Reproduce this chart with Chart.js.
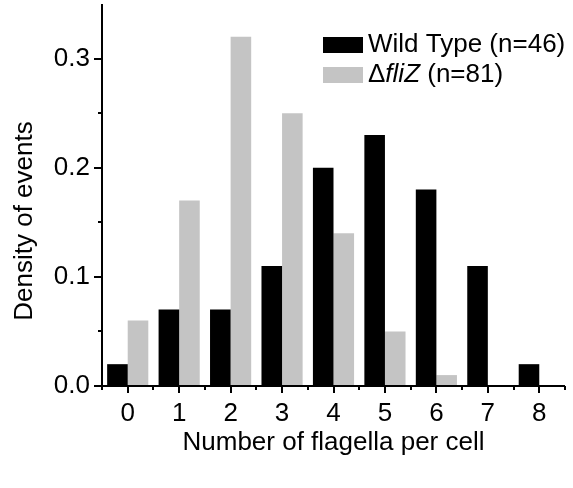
<!DOCTYPE html>
<html>
<head>
<meta charset="utf-8">
<script src="https://cdn.jsdelivr.net/npm/chart.js@4"></script>
<style>
  html, body { margin: 0; padding: 0; background: #fff; }
  #wrap { width: 573px; height: 488px; }
</style>
</head>
<body>
<div id="wrap"><canvas id="flagellaChart" width="573" height="488"></canvas></div>
<script>
let labelsData = ["0", "1", "2", "3", "4", "5", "6", "7", "8"];
let wildTypeData = [0.02, 0.07, 0.07, 0.11, 0.20, 0.23, 0.18, 0.11, 0.02];
let fliZData = [0.06, 0.17, 0.32, 0.25, 0.14, 0.05, 0.01, 0, 0];
let yTicks = [0, 0.1, 0.2, 0.3];
let yMinorTicks = [0.05, 0.15, 0.25];
let xTitle = "Number of flagella per cell";
let yTitle = "Density of events";

let fontFamily = "'Liberation Sans', Arial, sans-serif";
let chart = document.getElementById("flagellaChart");

// legend entries, each as plain/italic text runs
let legendItems = [
  { color: "#000000", parts: [["Wild Type (n=46)", false]] },
  { color: "#c4c4c4", parts: [["\u0394", false], ["fliZ", true], [" (n=81)", false]] },
];

// axis lines, major and minor tick marks, axis titles and legend
const axesPlugin = {
  id: "axesPlugin",
  afterDraw(c) {
    const ctx = c.ctx;
    const x = c.scales.x;
    const y = c.scales.y;
    const area = c.chartArea;
    ctx.save();
    ctx.strokeStyle = "#000";
    ctx.lineWidth = 2;
    ctx.beginPath();
    ctx.moveTo(area.left, area.top);
    ctx.lineTo(area.left, area.bottom);
    ctx.moveTo(area.left - 8, area.bottom);
    ctx.lineTo(area.right, area.bottom);
    // y ticks
    yTicks.forEach((v) => {
      const py = Math.round(y.getPixelForValue(v));
      ctx.moveTo(area.left - 8, py);
      ctx.lineTo(area.left, py);
    });
    yMinorTicks.forEach((v) => {
      const py = Math.round(y.getPixelForValue(v));
      ctx.moveTo(area.left - 4, py);
      ctx.lineTo(area.left, py);
    });
    // x ticks: majors at categories, minors between them
    labelsData.forEach((l, i) => {
      const px = Math.round(x.getPixelForValue(i));
      ctx.moveTo(px, area.bottom);
      ctx.lineTo(px, area.bottom + 7);
    });
    for (let i = 0; i <= labelsData.length; i++) {
      const px = Math.round(x.getPixelForValue(i - 0.5));
      ctx.moveTo(px, area.bottom);
      ctx.lineTo(px, area.bottom + 4);
    }
    ctx.stroke();

    // titles
    ctx.fillStyle = "#000";
    ctx.font = "26px " + fontFamily;
    ctx.textAlign = "center";
    ctx.textBaseline = "alphabetic";
    ctx.fillText(xTitle, (area.left + area.right) / 2, area.bottom + 64);
    ctx.save();
    ctx.translate(32, area.bottom - 165);
    ctx.rotate(-Math.PI / 2);
    ctx.fillText(yTitle, 0, 0);
    ctx.restore();

    // legend
    ctx.textAlign = "left";
    legendItems.forEach((item, i) => {
      const top = area.top + 33 + i * 30;
      ctx.fillStyle = item.color;
      ctx.fillRect(323, top, 40, 16);
      ctx.fillStyle = "#000";
      let tx = 368;
      item.parts.forEach(([txt, italic]) => {
        ctx.font = (italic ? "italic " : "") + "26px " + fontFamily;
        ctx.fillText(txt, tx, top + 15);
        tx += ctx.measureText(txt).width;
      });
    });
    ctx.restore();
  },
};

new Chart(chart, {
  type: "bar",
  data: {
    labels: labelsData,
    datasets: [
      {
        label: "Wild Type (n=46)",
        data: wildTypeData,
        backgroundColor: "#000000",
        categoryPercentage: 0.8,
        barPercentage: 1.0,
      },
      {
        label: "\u0394fliZ (n=81)",
        data: fliZData,
        backgroundColor: "#c4c4c4",
        categoryPercentage: 0.8,
        barPercentage: 1.0,
      },
    ],
  },
  options: {
    responsive: false,
    animation: false,
    devicePixelRatio: 1,
    layout: { padding: { left: 0, top: 4, right: 8, bottom: 0 } },
    plugins: {
      legend: { display: false },
      tooltip: { enabled: false },
    },
    scales: {
      x: {
        offset: true,
        grid: { display: false, drawTicks: false },
        border: { display: false },
        ticks: {
          color: "#000",
          font: { family: fontFamily, size: 26 },
          padding: 12,
          maxRotation: 0,
        },
        afterFit: (s) => {
          s.height = 102;
          s.paddingLeft = 0;
          s.paddingRight = 0;
        },
      },
      y: {
        min: 0,
        max: 0.35,
        grid: { display: false, drawTicks: false },
        border: { display: false },
        ticks: {
          stepSize: 0.1,
          includeBounds: false,
          color: "#000",
          font: { family: fontFamily, size: 26 },
          padding: 12,
          callback: (v) => v.toFixed(1),
        },
        afterFit: (s) => {
          s.width = 102;
          s.paddingTop = 0;
          s.paddingBottom = 0;
        },
      },
    },
  },
  plugins: [axesPlugin],
});
</script>
</body>
</html>
